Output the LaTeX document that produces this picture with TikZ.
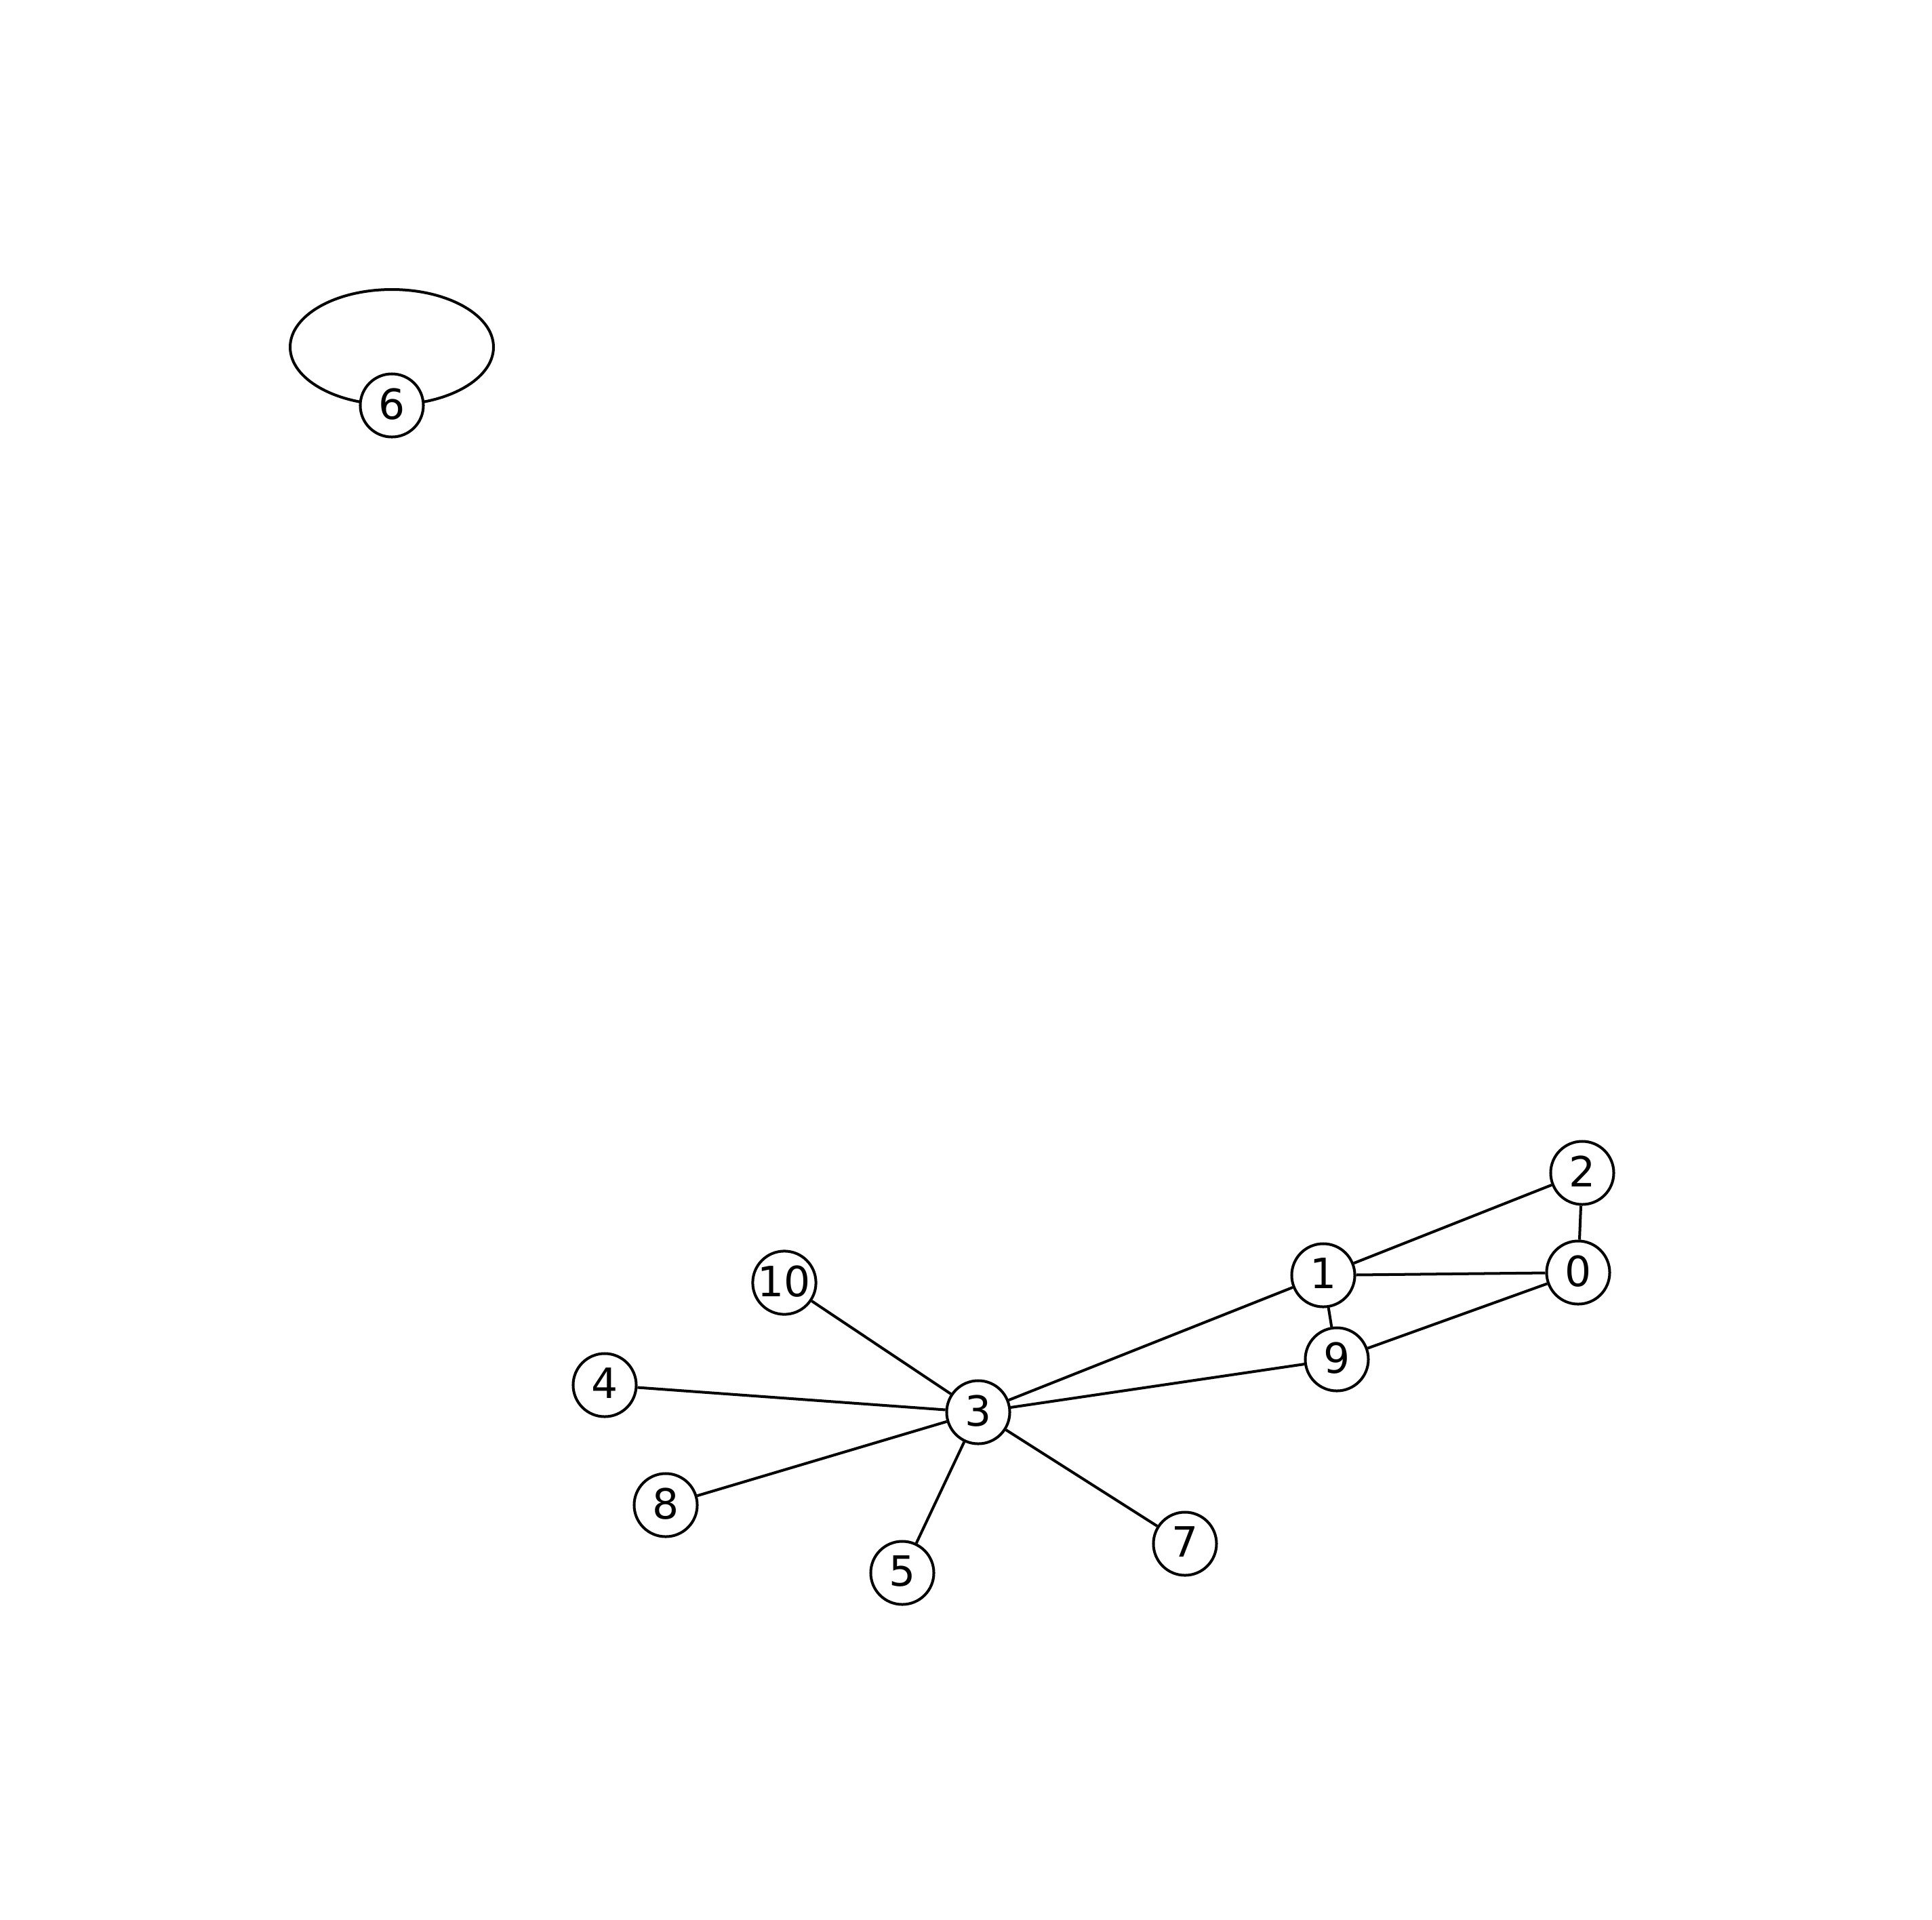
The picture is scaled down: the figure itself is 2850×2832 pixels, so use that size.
\documentclass[tikz,border=0pt]{standalone}
\usepackage{fontspec}
\setmainfont{DejaVu Sans}
\begin{document}
\begin{tikzpicture}[x=0.01cm,y=-0.01cm,
  vertex/.style={circle,draw=black,fill=white,line width=1.14pt,minimum size=0.93cm,inner sep=0pt,font=\fontsize{17.5}{20}\selectfont},
  edge/.style={line width=1.14pt,black}]
\useasboundingbox (0,0) rectangle (2850,2832);
\draw[edge] (578,512) ellipse [x radius=150,y radius=85];
\node[vertex] (n6) at (578,598) {\raisebox{0.05cm}{6}};
\node[vertex] (n0) at (2328,1877) {\raisebox{0.05cm}{0}};
\node[vertex] (n1) at (1952,1881) {\raisebox{0.05cm}{1}};
\node[vertex] (n2) at (2334,1730) {\raisebox{0.05cm}{2}};
\node[vertex] (n3) at (1443,2083) {\raisebox{0.05cm}{3}};
\node[vertex] (n4) at (892,2043) {\raisebox{0.05cm}{4}};
\node[vertex] (n5) at (1331,2320) {\raisebox{0.05cm}{5}};
\node[vertex] (n7) at (1748,2277) {\raisebox{0.05cm}{7}};
\node[vertex] (n8) at (982,2220) {\raisebox{0.05cm}{8}};
\node[vertex] (n9) at (1972,2005) {\raisebox{0.05cm}{9}};
\node[vertex] (n10) at (1157,1892) {\raisebox{0.05cm}{10}};
\draw[edge] (n1) -- (n2);
\draw[edge] (n1) -- (n0);
\draw[edge] (n2) -- (n0);
\draw[edge] (n9) -- (n0);
\draw[edge] (n1) -- (n9);
\draw[edge] (n3) -- (n1);
\draw[edge] (n3) -- (n9);
\draw[edge] (n3) -- (n10);
\draw[edge] (n3) -- (n4);
\draw[edge] (n3) -- (n8);
\draw[edge] (n3) -- (n5);
\draw[edge] (n3) -- (n7);
\end{tikzpicture}
\end{document}
